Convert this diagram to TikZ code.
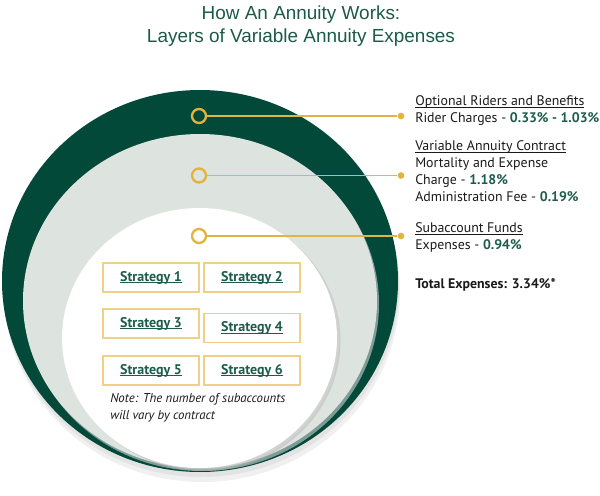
\documentclass[tikz,border=0pt]{standalone}
\usepackage{fontspec}
\setmainfont{PT Sans}
\newfontfamily\titlefont{Liberation Sans}
\definecolor{dkgreen}{HTML}{03493A}
\definecolor{midgray}{HTML}{DDE3DE}
\definecolor{gold}{HTML}{E2B43A}
\definecolor{goldline}{HTML}{E0B445}
\definecolor{boxgold}{HTML}{F0CF86}
\definecolor{titlegreen}{HTML}{1C5A48}
\definecolor{pctgreen}{HTML}{1D5C4A}
\definecolor{txt}{HTML}{1A1A1A}
\newcommand{\ul}[1]{\setbox0\hbox{#1}\rlap{\rule[-1.6pt]{\wd0}{0.55pt}}\box0}
\newcommand{\pc}[1]{\textcolor{pctgreen}{\bfseries #1}}
\tikzset{
  ring/.style={circle, draw=gold, line width=1.7pt, minimum size=10.5pt, inner sep=0pt},
  dot/.style={circle, fill=gold, minimum size=5pt, inner sep=0pt},
  leader/.style={draw=goldline, line width=1pt},
  sidetext/.style={anchor=base west, inner sep=0pt, font=\fontsize{10.4pt}{12.75pt}\selectfont, text=txt},
  stratbox/.style={draw=boxgold, line width=1pt, minimum width=72pt, minimum height=21.75pt, inner sep=0pt, font=\fontsize{10.5pt}{11pt}\selectfont\bfseries, text=pctgreen}
}
\begin{document}
\begin{tikzpicture}[x=0.75pt,y=-0.75pt]
\useasboundingbox (0,0) rectangle (600,496);
% title
\node[font=\titlefont\fontsize{14.2pt}{17.25pt}\selectfont, text=titlegreen, align=center] (title) at (301,26.5) {How An Annuity Works:\\Layers of Variable Annuity Expenses};
% circles
\fill[gray!40, opacity=0.3] (202,291) ellipse [x radius=148.5pt, y radius=143.25pt];
\fill[gray!40, opacity=0.35] (201,286) ellipse [x radius=148.5pt, y radius=143.25pt];
\fill[dkgreen] (200,281) ellipse [x radius=148.5pt, y radius=143.25pt];
\fill[gray!35, opacity=0.6] (202,304) ellipse [x radius=132.75pt, y radius=125.25pt];
\fill[midgray] (200,301) ellipse [x radius=132.75pt, y radius=125.25pt];
\fill[gray!55, opacity=0.5] (203,341) ellipse [x radius=103.1pt, y radius=97.5pt];
\fill[gray!30, opacity=0.5] (201.5,339.5) ellipse [x radius=103.1pt, y radius=97.5pt];
\fill[white] (199.5,338) ellipse [x radius=103.1pt, y radius=97.5pt];
% rings and leaders
\node[ring] (c1) at (199,116) {};
\node[ring] (c2) at (199,175.5) {};
\node[ring] (c3) at (199,236) {};
\node[dot] (d1) at (401,116) {};
\node[dot] (d2) at (401,175.5) {};
\node[dot] (d3) at (401,236) {};
\draw[leader] (c1) -- (d1);
\draw[leader] (c2) -- (d2);
\draw[leader] (c3) -- (d3);
% side text
\node[sidetext] (t1) at (415,105.5) {\ul{Optional Riders and Benefits}};
\node[sidetext] (t2) at (415,122.5) {Rider Charges - \pc{0.33\% - 1.03\%}};
\node[sidetext] (t3) at (415,150.5) {\ul{Variable Annuity Contract}};
\node[sidetext] (t4) at (415,167.5) {Mortality and Expense};
\node[sidetext] (t5) at (415,184.5) {Charge - \pc{1.18\%}};
\node[sidetext] (t6) at (415,201.5) {Administration Fee - \pc{0.19\%}};
\node[sidetext] (t7) at (415,232.5) {\ul{Subaccount Funds}};
\node[sidetext] (t8) at (415,249.5) {Expenses - \pc{0.94\%}};
\node[sidetext, font=\fontsize{10.4pt}{12.75pt}\selectfont\bfseries] (t9) at (415,288.5) {Total Expenses: 3.34\%*};
% strategy boxes
\node[stratbox] (s1) at (151,277.5) {\ul{Strategy 1}};
\node[stratbox] (s2) at (252,277.5) {\ul{Strategy 2}};
\node[stratbox] (s3) at (151,323.5) {\ul{Strategy 3}};
\node[stratbox] (s4) at (252,328) {\ul{Strategy 4}};
\node[stratbox] (s5) at (151,370.5) {\ul{Strategy 5}};
\node[stratbox] (s6) at (252,370.5) {\ul{Strategy 6}};
% note
\node[anchor=base west, inner sep=0pt, align=left, font=\fontsize{9.6pt}{12.75pt}\selectfont\itshape, text=txt] (note) at (110,419.5) {Note: The number of subaccounts\\will vary by contract};
\end{tikzpicture}
\end{document}
